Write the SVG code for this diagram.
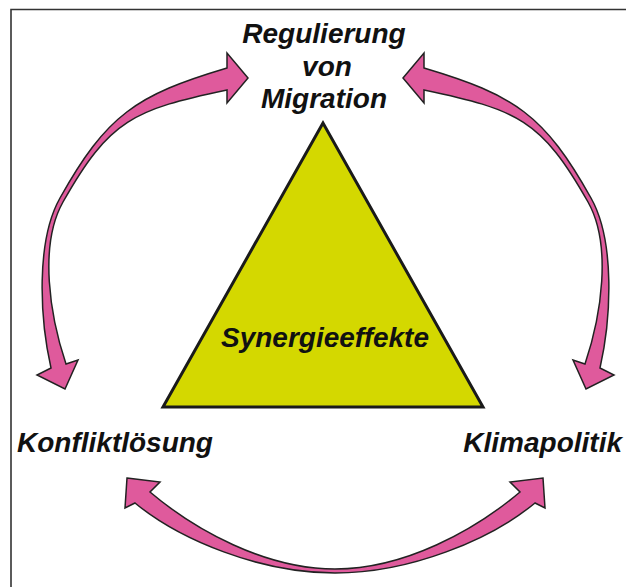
<svg xmlns="http://www.w3.org/2000/svg" width="626" height="587" viewBox="0 0 626 587">
<style>
.lbl{font-family:"Liberation Sans",Arial,sans-serif;font-weight:bold;font-style:italic;font-size:28px;fill:#111;}
.arr{fill:#df5a9c;stroke:#222;stroke-width:1.5;stroke-linejoin:miter;}
</style>
<rect width="626" height="587" fill="#fff"/>
<path d="M11 587 V9.5 H626" fill="none" stroke="#333" stroke-width="1.6"/>
<g id="connectors">
<path id="arrow-left" class="arr" d="M248 78 L227 53 L227 68 C136 95 106.5 115 60 198 C35.5 241.5 40 319.5 51 368 L37 375 L65 389 L78 360 L66 364 C50 316.5 38.5 245.5 63 202 C109.5 119.4 134 109.6 227 90 L227 103 Z"/>
<path id="arrow-right" class="arr" transform="translate(651,0) scale(-1,1)" d="M248 78 L227 53 L227 68 C136 95 106.5 115 60 198 C35.5 241.5 40 319.5 51 368 L37 375 L65 389 L78 360 L66 364 C50 316.5 38.5 245.5 63 202 C109.5 119.4 134 109.6 227 90 L227 103 Z"/>
<path id="arrow-bottom" class="arr" d="M127 478 L160 482 L150 492 C195 530 265 569 335 569 C405 569 475 530 520 492 L510 482 L543 478 L545 508 L535 503 C490 540 410 573 335 573 C260 573 180 540 135 503 L125 508 Z"/>
</g>
<g id="node-synergie">
<polygon points="323,123 163,407 483,407" fill="#d4d800" stroke="#1a1a1a" stroke-width="3" stroke-linejoin="miter"/>
<text class="lbl" x="325" y="347" text-anchor="middle">Synergieeffekte</text>
</g>
<g id="node-migration">
<text class="lbl" x="324" y="43" text-anchor="middle">Regulierung</text>
<text class="lbl" x="327" y="76" text-anchor="middle">von</text>
<text class="lbl" x="324" y="108" text-anchor="middle">Migration</text>
</g>
<g id="node-konflikt">
<text class="lbl" x="17" y="452">Konfliktlösung</text>
</g>
<g id="node-klima">
<text class="lbl" x="622" y="452" text-anchor="end">Klimapolitik</text>
</g>
</svg>
